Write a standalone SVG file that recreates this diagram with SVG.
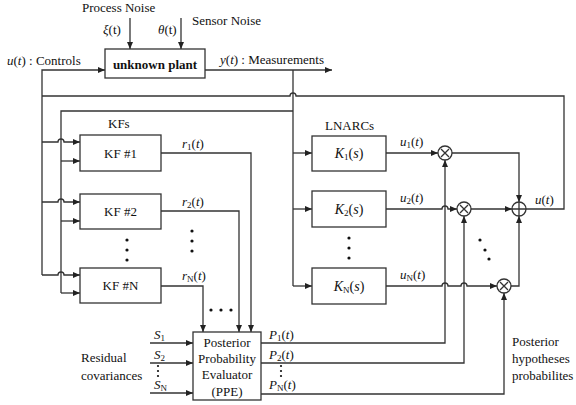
<svg xmlns="http://www.w3.org/2000/svg" width="576" height="405" viewBox="0 0 576 405">
<defs>
<marker id="ah" markerWidth="7" markerHeight="6" refX="7" refY="3" orient="auto" markerUnits="userSpaceOnUse"><path d="M0,0 L7,3 L0,6 z" fill="#222"/></marker>
</defs>
<style>
text{font-family:"Liberation Serif","Times New Roman",serif;font-size:13px;fill:#111}
.i{font-style:italic}
.sub{font-size:9px;font-style:normal}
.b{font-weight:bold}
.k{font-size:14px}
.box{fill:#fff;stroke:#333;stroke-width:1.3}
.w{fill:none;stroke:#333;stroke-width:1.3}
.a{marker-end:url(#ah)}
.dot{fill:#111}
</style>
<rect width="576" height="405" fill="#fff"/>

<g id="connectors">
<path class="w a" d="M130,18 V49"/>
<path class="w a" d="M181,18 V49"/>
<path class="w a" d="M42,275 V70 H105"/>
<path class="w a" d="M205,70 H332"/>
<path class="w" d="M293,70 V286"/>
<path class="w" d="M293,111 H61 V293"/>
<path class="w a" d="M42,142 H58 A3,3 0 0 1 64,142 H80"/>
<path class="w a" d="M42,202 H58 A3,3 0 0 1 64,202 H80"/>
<path class="w a" d="M42,275 H58 A3,3 0 0 1 64,275 H80"/>
<path class="w a" d="M61,161 H80"/>
<path class="w a" d="M61,221 H80"/>
<path class="w a" d="M61,293 H80"/>
<path class="w a" d="M293,153 H312"/>
<path class="w a" d="M293,209 H312"/>
<path class="w a" d="M293,286 H312"/>
<path class="w" d="M526,209 H564 V96 H296 A3,3 0 0 0 290,96 H42"/>
<path class="w a" d="M161,153 H251 V332"/>
<path class="w a" d="M161,211 H239 V332"/>
<path class="w a" d="M161,286 H203 V332"/>
<path class="w a" d="M150,343 H193"/>
<path class="w a" d="M150,363 H193"/>
<path class="w a" d="M150,393 H193"/>
<path class="w a" d="M261,343 H445 V160"/>
<path class="w a" d="M261,363 H464 V216"/>
<path class="w a" d="M261,394 H504 V293"/>
<path class="w a" d="M386,153 H438"/>
<path class="w a" d="M386,209 H442 A3,3 0 0 1 448,209 H457"/>
<path class="w a" d="M386,286 H442 A3,3 0 0 1 448,286 H461 A3,3 0 0 1 467,286 H497"/>
<path class="w a" d="M452,153 H519 V202"/>
<path class="w a" d="M471,209 H512"/>
<path class="w a" d="M511,286 H519 V216"/>
</g>

<g id="plant">
<rect class="box" x="105" y="49" width="100" height="29"/>
<text class="b" x="155" y="69" text-anchor="middle">unknown plant</text>
</g>

<g id="labels-top">
<text x="82" y="12">Process Noise</text>
<text x="103" y="34"><tspan class="i">ξ</tspan>(t)</text>
<text x="158" y="34"><tspan class="i">θ</tspan>(t)</text>
<text x="192" y="25">Sensor Noise</text>
<text x="7" y="65"><tspan class="i">u</tspan>(<tspan class="i">t</tspan>) : Controls</text>
<text x="220" y="64"><tspan class="i">y</tspan>(<tspan class="i">t</tspan>) : Measurements</text>
</g>

<g id="kf1">
<text x="108" y="128">KFs</text>
<rect class="box" x="80" y="135" width="81" height="36"/>
<text x="120.5" y="158" text-anchor="middle">KF #1</text>
</g>
<g id="kf2">
<rect class="box" x="80" y="194" width="81" height="35"/>
<text x="120.5" y="216" text-anchor="middle">KF #2</text>
</g>
<g id="kfN">
<rect class="box" x="80" y="268" width="81" height="35"/>
<text x="120.5" y="290" text-anchor="middle">KF #N</text>
</g>
<g id="kf-dots">
<circle class="dot" cx="127" cy="240" r="1.6"/>
<circle class="dot" cx="127" cy="250" r="1.6"/>
<circle class="dot" cx="127" cy="260" r="1.6"/>
<circle class="dot" cx="192" cy="231" r="1.6"/>
<circle class="dot" cx="192" cy="241" r="1.6"/>
<circle class="dot" cx="192" cy="251" r="1.6"/>
<circle class="dot" cx="211" cy="310" r="1.6"/>
<circle class="dot" cx="221" cy="310" r="1.6"/>
<circle class="dot" cx="231" cy="310" r="1.6"/>
</g>
<g id="r-labels">
<text x="182" y="148"><tspan class="i">r</tspan><tspan class="sub" dy="2">1</tspan><tspan dy="-2">(</tspan><tspan class="i">t</tspan>)</text>
<text x="182" y="206"><tspan class="i">r</tspan><tspan class="sub" dy="2">2</tspan><tspan dy="-2">(</tspan><tspan class="i">t</tspan>)</text>
<text x="182" y="280"><tspan class="i">r</tspan><tspan class="sub i" dy="2">N</tspan><tspan dy="-2">(</tspan><tspan class="i">t</tspan>)</text>
</g>

<g id="ppe">
<rect class="box" x="193" y="332" width="68" height="68"/>
<text x="227" y="347" text-anchor="middle">Posterior</text>
<text x="227" y="363" text-anchor="middle">Probability</text>
<text x="227" y="379" text-anchor="middle">Evaluator</text>
<text x="227" y="396" text-anchor="middle">(PPE)</text>
</g>
<g id="ppe-inputs">
<text x="81" y="362">Residual</text>
<text x="81" y="380">covariances</text>
<text x="154" y="339"><tspan class="i">S</tspan><tspan class="sub" dy="2">1</tspan></text>
<text x="154" y="359"><tspan class="i">S</tspan><tspan class="sub" dy="2">2</tspan></text>
<text x="154" y="389"><tspan class="i">S</tspan><tspan class="sub i" dy="2">N</tspan></text>
<circle class="dot" cx="158" cy="366" r="1.1"/>
<circle class="dot" cx="158" cy="371" r="1.1"/>
<circle class="dot" cx="158" cy="376" r="1.1"/>
</g>
<g id="ppe-outputs">
<text x="269" y="339"><tspan class="i">P</tspan><tspan class="sub" dy="2">1</tspan><tspan dy="-2">(</tspan><tspan class="i">t</tspan>)</text>
<text x="269" y="359"><tspan class="i">P</tspan><tspan class="sub" dy="2">2</tspan><tspan dy="-2">(</tspan><tspan class="i">t</tspan>)</text>
<text x="269" y="389"><tspan class="i">P</tspan><tspan class="sub i" dy="2">N</tspan><tspan dy="-2">(</tspan><tspan class="i">t</tspan>)</text>
<circle class="dot" cx="281" cy="366" r="1.1"/>
<circle class="dot" cx="281" cy="371" r="1.1"/>
<circle class="dot" cx="281" cy="376" r="1.1"/>
<text x="512" y="346">Posterior</text>
<text x="512" y="363">hypotheses</text>
<text x="512" y="380">probabilites</text>
</g>

<g id="k1">
<text x="325" y="130">LNARCs</text>
<rect class="box" x="312" y="136" width="74" height="35"/>
<text class="k" x="349" y="158" text-anchor="middle"><tspan class="i">K</tspan><tspan class="sub" dy="2">1</tspan><tspan dy="-2">(</tspan><tspan class="i">s</tspan>)</text>
</g>
<g id="k2">
<rect class="box" x="312" y="191" width="74" height="36"/>
<text class="k" x="349" y="214" text-anchor="middle"><tspan class="i">K</tspan><tspan class="sub" dy="2">2</tspan><tspan dy="-2">(</tspan><tspan class="i">s</tspan>)</text>
</g>
<g id="kN">
<rect class="box" x="312" y="268" width="74" height="36"/>
<text class="k" x="349" y="291" text-anchor="middle"><tspan class="i">K</tspan><tspan class="sub i" dy="2">N</tspan><tspan dy="-2">(</tspan><tspan class="i">s</tspan>)</text>
</g>
<g id="k-dots">
<circle class="dot" cx="349" cy="238" r="1.6"/>
<circle class="dot" cx="349" cy="248" r="1.6"/>
<circle class="dot" cx="349" cy="258" r="1.6"/>
<circle class="dot" cx="480" cy="240" r="1.6"/>
<circle class="dot" cx="485" cy="250" r="1.6"/>
<circle class="dot" cx="489" cy="259" r="1.6"/>
</g>
<g id="u-labels">
<text x="400" y="146"><tspan class="i">u</tspan><tspan class="sub" dy="2">1</tspan><tspan dy="-2">(</tspan><tspan class="i">t</tspan>)</text>
<text x="400" y="202"><tspan class="i">u</tspan><tspan class="sub" dy="2">2</tspan><tspan dy="-2">(</tspan><tspan class="i">t</tspan>)</text>
<text x="400" y="279"><tspan class="i">u</tspan><tspan class="sub i" dy="2">N</tspan><tspan dy="-2">(</tspan><tspan class="i">t</tspan>)</text>
<text x="535" y="204"><tspan class="i">u</tspan>(<tspan class="i">t</tspan>)</text>
</g>

<g id="mult1">
<circle class="box" cx="445" cy="153" r="7"/>
<path class="w" d="M441,149 L449,157 M449,149 L441,157"/>
</g>
<g id="mult2">
<circle class="box" cx="464" cy="209" r="7"/>
<path class="w" d="M460,205 L468,213 M468,205 L460,213"/>
</g>
<g id="multN">
<circle class="box" cx="504" cy="286" r="7"/>
<path class="w" d="M500,282 L508,290 M508,282 L500,290"/>
</g>
<g id="sum">
<circle class="box" cx="519" cy="209" r="7"/>
<path class="w" d="M519,202 V216 M512,209 H526"/>
</g>
</svg>
